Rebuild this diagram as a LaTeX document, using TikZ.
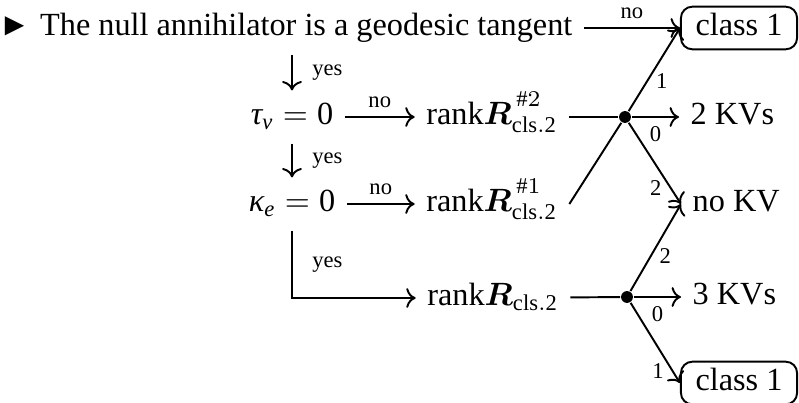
\documentclass[tikz,border=0pt]{standalone}
\usepackage{amsmath, amssymb}
\usepackage{fontspec}
\setmainfont{Liberation Serif}
\usepackage{tikz}
\usetikzlibrary{calc, positioning, arrows.meta}

\newcommand{\rankR}[1]{\mathrm{rank}\boldsymbol{R}^{\raisebox{1.2pt}{$\scriptstyle\,#1$}}_{\mathrm{cls.2}}}

\begin{document}
\begin{tikzpicture}[
  x=0.31pt, y=-0.31pt, semithick,
  txt/.style={text height=7pt, text depth=2.2pt},
  endbox/.style={draw, rounded corners=3.5pt, minimum width=36pt,
              minimum height=11.4pt, inner sep=2pt, txt},
  lab/.style={font=\scriptsize, inner sep=2.5pt},
  branch/.style={circle, fill, inner sep=1.3pt},
]
\useasboundingbox (0,0) rectangle (799,403);

\node[txt, anchor=east] (intro) at (584,28) {►\hspace{0.3em}The null annihilator is a geodesic tangent};
\node[endbox] (cls1a) at (739,28) {class 1};

\node[txt] (tau) at (292,117) {$\textit{τ}_{\textit{v}} = \text{0}$};
\node[txt] (kappa) at (292,204) {$\textit{κ}_{\textit{e}} = \text{0}$};

\node[txt] (rank2) at (492,117) {$\rankR{\#2}$};
\node[txt] (rank1) at (492,204) {$\rankR{\#1}$};
\node[txt] (rank0) at (493,298) {$\mathrm{rank}\boldsymbol{R}_{\mathrm{cls.2}}$};

\node[branch] (dot2) at (625,117) {};
\node[branch] (dot0) at (627,297) {};

\node[txt, anchor=west] (kv2) at (679,117) {2 KVs};
\node[txt, anchor=west] (nokv) at (681,204) {no KV};
\node[txt, anchor=west] (kv3) at (681,297) {3 KVs};
\node[endbox] (cls1b) at (739,383) {class 1};

\draw[->] (intro) -- (cls1a) node[lab, midway, above] {no};
\draw[->] (tau |- intro.south) -- (tau) node[lab, midway, right=3.5pt] {yes};
\draw[->] (tau) -- (kappa) node[lab, midway, right=3.5pt] {yes};
\draw[->] (kappa) |- (rank0) node[lab, pos=0.25, right=3.5pt] {yes};

\draw[->] (tau) -- (rank2) node[lab, midway, above] {no};
\draw[->] (kappa) -- (rank1) node[lab, midway, above] {no};

\draw (rank2) -- (dot2);
\draw (rank1.east) -- (dot2);
\draw[->] (dot2) -- (cls1a.west) node[lab, pos=0.36, right] {1};
\draw[->] (dot2) -- (kv2) node[lab, midway, below] {0};
\draw[->] (dot2) -- (nokv.west) node[lab, pos=0.8, left] {2};

\draw (rank0) -- (dot0);
\draw[->] (dot0) -- (nokv.west) node[lab, pos=0.4, right] {2};
\draw[->] (dot0) -- (kv3) node[lab, midway, below] {0};
\draw[->] (dot0) -- (cls1b.west) node[lab, pos=0.85, left] {1};
\end{tikzpicture}
\end{document}
